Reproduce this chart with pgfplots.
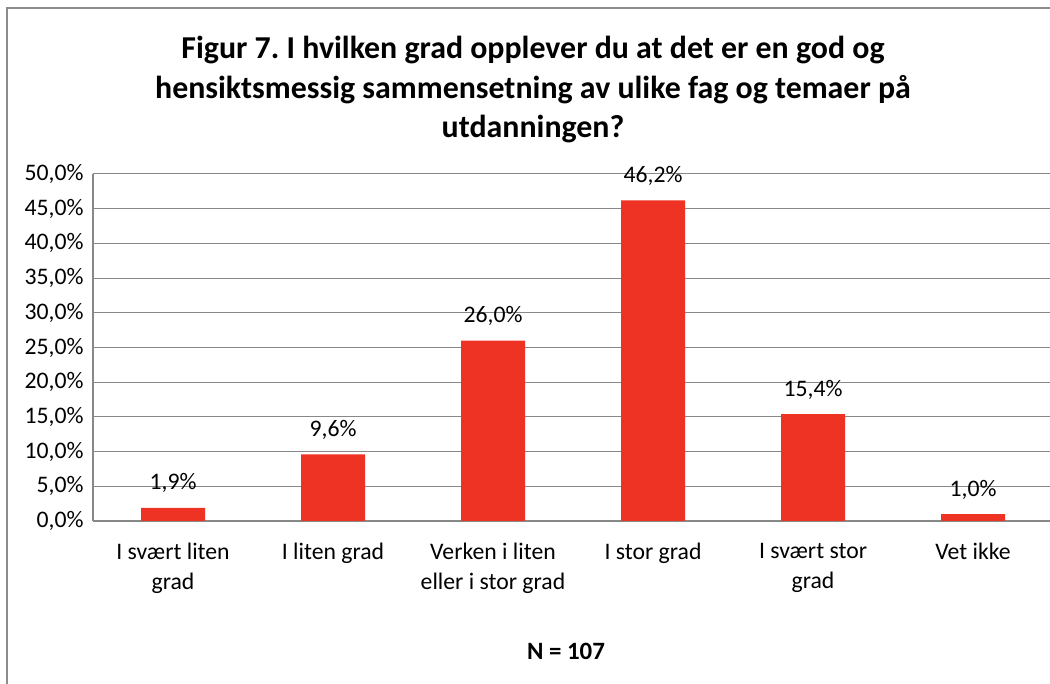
\documentclass[border=0pt]{standalone}
\usepackage{fontspec}
\setmainfont{Carlito}
\usepackage{pgfplots}
\pgfplotsset{compat=1.18}
\definecolor{barred}{HTML}{EE3224}
\definecolor{gridgray}{HTML}{888888}
\definecolor{framegray}{HTML}{8C8C8C}
\newcommand{\lbl}{\fontsize{23.8}{30}\selectfont}
\frenchspacing
\begin{document}
\begin{tikzpicture}[x=1bp,y=1bp]
\useasboundingbox (0,0) rectangle (1050,684);
\draw[framegray, line width=1.2bp] (7,-10) -- (7,676) -- (1060,676);
\node[font=\fontsize{32}{40}\selectfont\bfseries, align=center, anchor=base] at (533,684-138) {Figur 7. I hvilken grad opplever du at det er en god og\\hensiktsmessig sammensetning av ulike fag og temaer på\\utdanningen?};
\node[font=\fontsize{25}{30}\selectfont\bfseries, anchor=base] at (566,684-660) {N = 107};
\begin{axis}[
    at={(93bp,163bp)}, anchor=south west,
    scale only axis, width=960bp, height=347bp,
    ybar, bar width=64bp,
    xmin=-0.5, xmax=5.5, ymin=0, ymax=50,
    xtick={0,...,5},
    xticklabels={I svært liten\\grad, I liten grad, Verken i liten\\eller i stor grad, I stor grad, I svært stor\\grad, Vet ikke},
    ytick={0,5,...,50},
    yticklabel={\pgfmathprintnumber{\tick}\%},
    /pgf/number format/.cd, use comma, fixed, fixed zerofill, precision=1, assume math mode=true,
    /pgfplots/.cd,
    ymajorgrids, grid style={gridgray, line width=1bp},
    axis x line*=bottom, axis y line*=left,
    axis line style={-, gridgray, line width=1.5bp},
    x axis line style={line width=2bp},
    major tick length=0pt,
    tick style={draw=none},
    yticklabel style={font=\lbl, anchor=east, xshift=-6bp},
    xticklabel style={font=\lbl, align=center, anchor=north, yshift=-19bp},
    nodes near coords={\pgfmathprintnumber{\pgfplotspointmeta}\%},
    every node near coord/.append style={font=\lbl, anchor=base, yshift=18bp, text=black},
]
\addplot[fill=barred, draw=none] coordinates {(0,1.9) (1,9.6) (2,26.0) (3,46.2) (4,15.4) (5,1.0)};
\end{axis}
\end{tikzpicture}
\end{document}
